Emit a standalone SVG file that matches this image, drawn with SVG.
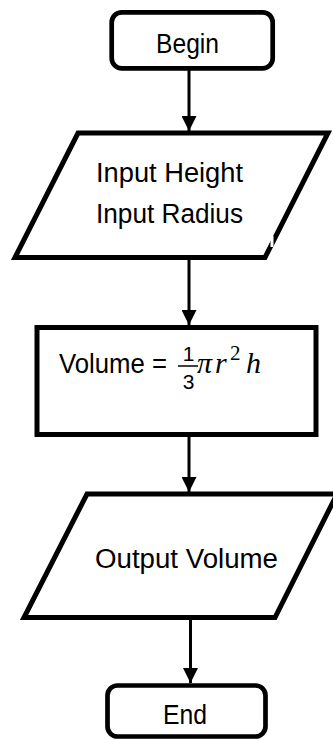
<svg xmlns="http://www.w3.org/2000/svg" width="333" height="740" viewBox="0 0 333 740">
<style>
.shape{fill:#fff;stroke:#000;stroke-width:5;stroke-linejoin:miter}
.term{fill:#fff;stroke:#000;stroke-width:4.7}
.lbl{font-family:"Liberation Sans",Arial,sans-serif;font-size:27px;fill:#000}
.conn{stroke:#000;stroke-width:3;fill:none}
.math{font-family:"Liberation Serif","DejaVu Serif",serif;font-style:italic;font-size:30px;fill:#000}
.small{font-family:"Liberation Sans",Arial,sans-serif;font-size:21px;fill:#000}
</style>
<defs>
<marker id="ah" markerWidth="5" markerHeight="5" refX="5" refY="2.5" orient="auto" markerUnits="strokeWidth">
<path d="M0,0 L5,2.5 L0,5 Z" fill="#000"/>
</marker>
</defs>
<rect width="333" height="740" fill="#fff"/>
<g id="connectors">
<line class="conn" x1="189" y1="70" x2="189" y2="131" marker-end="url(#ah)"/>
<line class="conn" x1="189" y1="260" x2="189" y2="325" marker-end="url(#ah)"/>
<line class="conn" x1="189" y1="437" x2="189" y2="492" marker-end="url(#ah)"/>
<line class="conn" x1="190.5" y1="620" x2="190.5" y2="683" marker-end="url(#ah)"/>
</g>
<g id="begin">
<rect class="term" x="111.7" y="12.3" width="161" height="56" rx="10"/>
<text class="lbl" x="187.5" y="53" text-anchor="middle" textLength="63" lengthAdjust="spacingAndGlyphs">Begin</text>
</g>
<g id="input">
<polygon class="shape" points="78,133 328,133 265,257.5 15,257.5"/>
<rect x="270.5" y="236" width="3" height="11" fill="#fff"/>
<text class="lbl" x="169.5" y="182" text-anchor="middle" textLength="147" lengthAdjust="spacingAndGlyphs">Input Height</text>
<text class="lbl" x="169.5" y="223" text-anchor="middle" textLength="147" lengthAdjust="spacingAndGlyphs">Input Radius</text>
</g>
<g id="process">
<rect class="shape" x="37" y="327.5" width="279" height="107"/>
<text class="lbl" x="59" y="373" textLength="108" lengthAdjust="spacingAndGlyphs">Volume =</text>
<text class="small" x="188.5" y="361" text-anchor="middle">1</text>
<line x1="178" y1="366" x2="198" y2="366" stroke="#000" stroke-width="1.5"/>
<text class="small" x="188.5" y="389" text-anchor="middle">3</text>
<text class="math" x="197" y="373">π</text>
<text class="math" x="215" y="373">r</text>
<text x="230" y="360" font-family="Liberation Serif,DejaVu Serif,serif" font-size="21" fill="#000">2</text>
<text class="math" x="246" y="373">h</text>
</g>
<g id="output">
<polygon class="shape" points="87,494 337,494 275,617.5 24,617.5"/>
<text class="lbl" x="186.5" y="568" text-anchor="middle" textLength="183" lengthAdjust="spacingAndGlyphs">Output Volume</text>
</g>
<g id="end">
<rect class="term" x="107.5" y="685.5" width="158" height="51" rx="10"/>
<text class="lbl" x="185" y="724" text-anchor="middle" textLength="44" lengthAdjust="spacingAndGlyphs">End</text>
</g>
</svg>
